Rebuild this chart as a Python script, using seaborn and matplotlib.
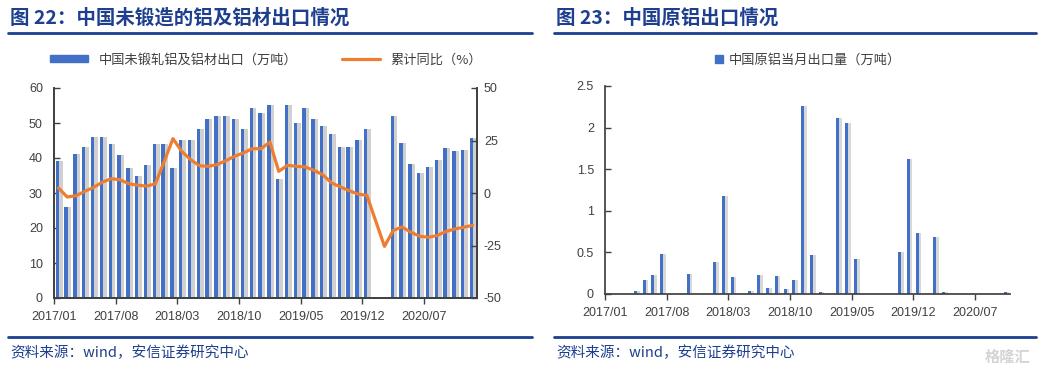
"""
图22 / 图23 – 中国铝出口两联图
"""
import numpy as np
import pandas as pd
import matplotlib
matplotlib.use("Agg")
import matplotlib.pyplot as plt
from matplotlib.lines import Line2D
from matplotlib.patches import Patch
import seaborn as sns

# ── palette ──────────────────────────────────────────────────────────────────
NAVY   = "#1d3f8e"
BLUE   = "#4170c6"
SHADOW = "#d0d0d0"
ORANGE = "#ed7d31"
GREY   = "#404040"

sns.set_theme(style="ticks")
plt.rcParams["font.family"] = ["Noto Sans CJK SC", "DejaVu Sans"]

# ── data ─────────────────────────────────────────────────────────────────────
tick_labels = ["2017/01", "2017/08", "2018/03", "2018/10", "2019/05", "2019/12", "2020/07"]

# 图22: 2017/01 – 2020/12, 2020/01-02 合并公布
left_export = [39.2, 26.0, 41.1, 43.1, 46.1, 46.1, 43.9, 41.0, 37.1, 35.0, 37.9, 43.9,
               43.9, 37.1, 45.1, 45.1, 48.2, 51.1, 52.1, 52.1, 51.1, 48.2, 54.3, 53.0,
               55.1, 34.1, 55.1, 50.0, 54.3, 51.1, 49.1, 47.0, 43.1, 43.1, 45.1, 48.2,
               np.nan, np.nan, 52.1, 44.2, 38.2, 35.6, 37.3, 39.4, 42.8, 42.0, 42.4, 45.7]
left_yoy = [2.4, -1.9, -1.3, 0.8, 2.7, 5.2, 6.8, 6.3, 4.4, 3.7, 3.3, 4.3,
            15.0, 25.9, 19.8, 15.9, 13.0, 12.7, 13.5, 15.4, 17.5, 19.1, 21.1, 21.1,
            24.3, 10.3, 13.2, 12.7, 12.4, 10.8, 8.7, 4.8, 2.9, 1.1, -0.5, -1.1,
            np.nan, -25.4, -17.8, -16.2, -18.7, -20.6, -21.1, -20.2, -18.3, -17.1, -16.3, -15.4]

# 图23: 2017/01 – 2020/10
right_export = [0, 0, 0, 0.04, 0.17, 0.23, 0.48, 0, 0, 0.24, 0, 0,
                0.38, 1.18, 0.20, 0, 0.04, 0.23, 0.07, 0.22, 0.06, 0.17, 2.26, 0.47,
                0.02, 0, 2.11, 2.05, 0.42, 0, 0, 0, 0, 0.51, 1.62, 0.73,
                0, 0.68, 0.02, 0, 0, 0, 0, 0, 0, 0.02]

left = pd.DataFrame({"pos": np.arange(len(left_export)),
                     "export": left_export, "yoy": left_yoy})
right = pd.DataFrame({"pos": np.arange(len(right_export)), "export": right_export})

fig = plt.figure(figsize=(10.44, 3.74), dpi=100)
W, H = 1044, 374


def fx(px):
    return px / W


def fy(py):
    return 1 - py / H


def style_xaxis(ax, n):
    ax.set_xlim(-0.5, n - 0.5)
    ax.set_xticks(np.arange(len(tick_labels)) * 7 - 0.5)
    ax.set_xticklabels(tick_labels, fontsize=9, color=GREY, family="Liberation Sans")
    ax.tick_params(axis="x", direction="out", length=4, width=1, pad=5, color=GREY)
    ax.set_xlabel("")
    ax.set_ylabel("")


# ─────────────────────────────────────────────────────────────────────────────
# 图22 – bars + cumulative yoy line
# ─────────────────────────────────────────────────────────────────────────────
ax1 = fig.add_axes([fx(54), fy(298), fx(477 - 54), (298 - 88) / H])
lb = left.dropna(subset=["export"])
sns.barplot(x=lb["pos"] + 0.2, y=lb["export"], native_scale=True, width=0.55,
            color=SHADOW, saturation=1, errorbar=None, linewidth=0, ax=ax1)
sns.barplot(x=lb["pos"] - 0.12, y=lb["export"], native_scale=True, width=0.38,
            color=BLUE, saturation=1, errorbar=None, linewidth=0, ax=ax1)
ax1.set_ylim(0, 60)
ax1.set_yticks(range(0, 61, 10))
ax1.set_yticklabels([str(v) for v in range(0, 61, 10)], fontsize=9, color=GREY,
                    family="Liberation Sans")
ax1.tick_params(axis="y", direction="in", length=4, width=1, pad=8, color=GREY)
style_xaxis(ax1, len(left))
ax1.spines["top"].set_visible(False)

ax1b = ax1.twinx()
ll = left.dropna(subset=["yoy"])
sns.lineplot(x=ll["pos"], y=ll["yoy"], color=ORANGE, lw=2.3, ax=ax1b)
ax1b.set_ylim(-50, 50)
ax1b.set_yticks([-50, -25, 0, 25, 50])
ax1b.set_yticklabels(["-50", "-25", "0", "25", "50"], fontsize=9, color=GREY,
                     family="Liberation Sans")
ax1b.tick_params(axis="y", direction="in", length=4, width=1, pad=5, color=GREY)
ax1b.set_ylabel("")
ax1b.set_xlim(-0.5, len(left) - 0.5)
ax1b.spines["top"].set_visible(False)
for a in (ax1, ax1b):
    for s in a.spines.values():
        s.set_color(GREY)

fig.legend(handles=[Patch(color=BLUE, label="中国未锻轧铝及铝材出口（万吨）"),
                    Line2D([], [], color=ORANGE, lw=2.3, label="累计同比（%）")],
           loc="center", bbox_to_anchor=(fx(266), fy(60)), ncol=2, frameon=False,
           fontsize=9.5, handlelength=2.9, handleheight=0.45, handletextpad=0.8,
           columnspacing=3.4, labelcolor=GREY)

# ─────────────────────────────────────────────────────────────────────────────
# 图23 – monthly primary aluminium exports
# ─────────────────────────────────────────────────────────────────────────────
ax2 = fig.add_axes([fx(605), fy(294), fx(1010 - 605), (294 - 86) / H])
rb = right[right["export"] > 0]
sns.barplot(x=rb["pos"] + 0.22, y=rb["export"], native_scale=True, width=0.4,
            color="#d8d8d8", saturation=1, errorbar=None, linewidth=0, ax=ax2)
sns.barplot(x=rb["pos"] - 0.05, y=rb["export"], native_scale=True, width=0.34,
            color=BLUE, saturation=1, errorbar=None, linewidth=0, ax=ax2)
ax2.set_ylim(0, 2.5)
ax2.set_yticks([0, 0.5, 1, 1.5, 2, 2.5])
ax2.set_yticklabels(["0", "0.5", "1", "1.5", "2", "2.5"], fontsize=9, color=GREY,
                    family="Liberation Sans")
ax2.tick_params(axis="y", direction="in", length=4, width=1, pad=8, color=GREY)
style_xaxis(ax2, len(right))
sns.despine(ax=ax2)
for s in ax2.spines.values():
    s.set_color(GREY)

fig.legend(handles=[Patch(color=BLUE, label="中国原铝当月出口量（万吨）")],
           loc="center", bbox_to_anchor=(fx(808), fy(60)), frameon=False,
           fontsize=9.5, handlelength=0.6, handleheight=0.6, handletextpad=0.5,
           labelcolor=GREY)

# ── titles, rules, sources ───────────────────────────────────────────────────
for x0, x1 in [(8, 532), (554, 1036)]:
    for yy in (33, 336.5):
        fig.add_artist(Line2D([fx(x0), fx(x1)], [fy(yy)] * 2, color=NAVY, lw=2))

fig.text(fx(10), fy(18), "图 22：中国未锻造的铝及铝材出口情况", fontsize=14,
         fontweight="bold", color=NAVY, va="center")
fig.text(fx(556), fy(18), "图 23：中国原铝出口情况", fontsize=14,
         fontweight="bold", color=NAVY, va="center")
for x0 in (10, 556):
    fig.text(fx(x0), fy(353), "资料来源：wind，安信证券研究中心", fontsize=10.5,
             color=NAVY, va="center", style="italic")
fig.text(fx(1030), fy(357), "格隆汇", fontsize=11, color="#d4d4d4",
         ha="right", va="center", fontweight="bold")

plt.savefig("out.png", dpi=100)
plt.close()
